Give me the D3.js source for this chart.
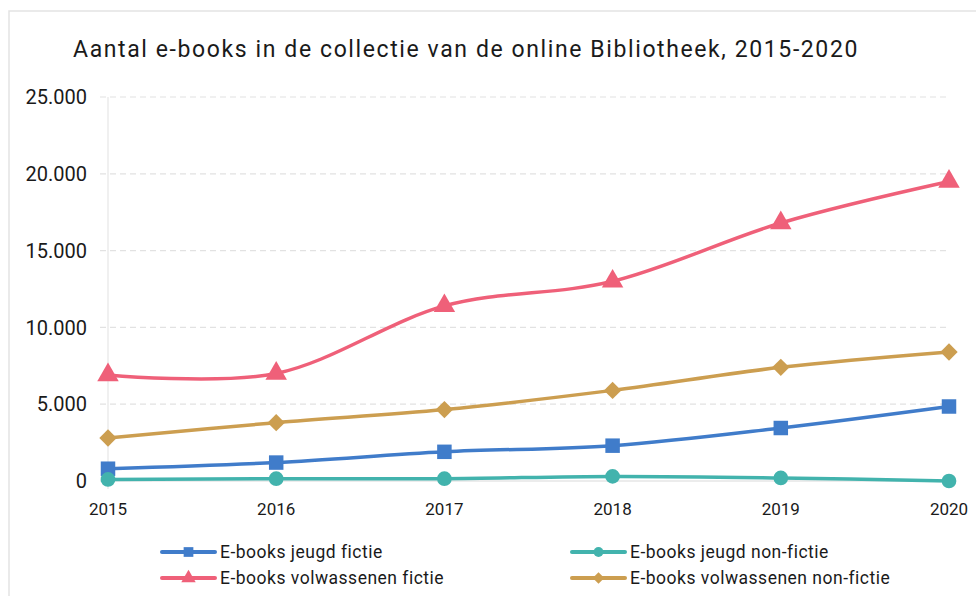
<!DOCTYPE html>
<html>
<head>
<meta charset="utf-8">
<script src="https://cdn.jsdelivr.net/npm/d3@7"></script>
<style>
  body { margin: 0; background: #fff; }
  text { font-family: Roboto, "Noto Sans", sans-serif; fill: #1a1a1a; }
</style>
</head>
<body>
<svg id="chart" width="976" height="596"></svg>
<script>
const years = [2015, 2016, 2017, 2018, 2019, 2020];
const seriesNames = [
  'E-books jeugd fictie',
  'E-books jeugd non-fictie',
  'E-books volwassenen fictie',
  'E-books volwassenen non-fictie'
];
const jeugdFictie = [800, 1200, 1900, 2300, 3450, 4850];
const jeugdNonFictie = [100, 150, 150, 300, 200, 0];
const volwFictie = [6900, 7000, 11400, 13000, 16800, 19500];
const volwNonFictie = [2800, 3800, 4650, 5900, 7400, 8400];
const yTicks = [0, 5000, 10000, 15000, 20000, 25000];

const colors = ['#407cca', '#42b3ad', '#ef6079', '#cc9e50'];
const symbols = [d3.symbolSquare, d3.symbolCircle, d3.symbolTriangle, d3.symbolSquare];
const symbolSizes = [210, 170, 200, 150];
const symbolRotate = [0, 0, 0, 45];

const width = 976;
const height = 596;
const margin = { top: 97, right: 27, bottom: 115, left: 108 };

const svg = d3.select('#chart');

// outer frame
svg.append('path')
  .attr('d', `M9,${height} L9,11 L${width},11`)
  .attr('fill', 'none')
  .attr('stroke', '#e3e3e3')
  .attr('stroke-width', 1.5);

svg.append('text')
  .text('Aantal e-books in de collectie van de online Bibliotheek, 2015-2020')
  .attr('x', 466)
  .attr('y', 57)
  .attr('text-anchor', 'middle')
  .attr('font-size', '23px')
  .attr('letter-spacing', '1.6px');

const x = d3.scalePoint()
  .domain(years)
  .range([margin.left, width - margin.right]);

const y = d3.scaleLinear()
  .domain([0, 25000])
  .range([height - margin.bottom, margin.top]);

const fmt = d3.formatLocale({ decimal: ',', thousands: '.', grouping: [3], currency: ['€', ''] }).format(',');

// gridlines
svg.append('g')
  .selectAll('line')
  .data(yTicks.filter(d => d > 0))
  .enter()
  .append('line')
  .attr('x1', margin.left - 8)
  .attr('x2', width - margin.right)
  .attr('y1', d => y(d))
  .attr('y2', d => y(d))
  .attr('stroke', '#e2e2e2')
  .attr('stroke-width', 1.2)
  .attr('stroke-dasharray', '6,4');

// axis lines
svg.append('line')
  .attr('x1', margin.left).attr('x2', margin.left)
  .attr('y1', y(25000)).attr('y2', y(0) + 8)
  .attr('stroke', '#e6e6e6').attr('stroke-width', 1.2);
svg.append('line')
  .attr('x1', margin.left - 8).attr('x2', width - margin.right)
  .attr('y1', y(0)).attr('y2', y(0))
  .attr('stroke', '#e6e6e6').attr('stroke-width', 1.5);

// y labels
svg.append('g')
  .selectAll('text')
  .data(yTicks)
  .enter()
  .append('text')
  .text(d => fmt(d))
  .attr('x', 87)
  .attr('y', d => y(d))
  .attr('dy', '0.36em')
  .attr('text-anchor', 'end')
  .attr('font-size', '20px');

// x labels
svg.append('g')
  .selectAll('text')
  .data(years)
  .enter()
  .append('text')
  .text(d => d)
  .attr('x', d => x(d))
  .attr('y', 515)
  .attr('text-anchor', 'middle')
  .attr('font-size', '17px');

const allSeries = [jeugdFictie, jeugdNonFictie, volwFictie, volwNonFictie];

const line = d3.line()
  .x((d, i) => x(years[i]))
  .y(d => y(d))
  .curve(d3.curveCardinal.tension(0));

// draw order: jeugd non-fictie last so it sits on top near zero
const order = [3, 2, 0, 1];
order.forEach((s) => {
  const g = svg.append('g');
  g.append('path')
    .datum(allSeries[s])
    .attr('d', line)
    .attr('fill', 'none')
    .attr('stroke', colors[s])
    .attr('stroke-width', 3.5);
  g.selectAll('path.marker')
    .data(allSeries[s])
    .enter()
    .append('path')
    .attr('class', 'marker')
    .attr('d', d3.symbol().type(symbols[s]).size(symbolSizes[s]))
    .attr('transform', (d, i) => `translate(${x(years[i])},${y(d)}) rotate(${symbolRotate[s]})`)
    .attr('fill', colors[s]);
});

// legend
const legendPos = [
  { x: 162, y: 552 },
  { x: 572, y: 552 },
  { x: 162, y: 578 },
  { x: 572, y: 578 }
];
const legend = svg.append('g')
  .selectAll('g')
  .data(seriesNames)
  .enter()
  .append('g')
  .attr('transform', (d, i) => `translate(${legendPos[i].x},${legendPos[i].y})`);

legend.append('line')
  .attr('x1', 0).attr('x2', 53)
  .attr('y1', 0).attr('y2', 0)
  .attr('stroke', (d, i) => colors[i])
  .attr('stroke-width', 4)
  .attr('stroke-linecap', 'round');
legend.append('path')
  .attr('d', (d, i) => d3.symbol().type(symbols[i]).size(symbolSizes[i] * 0.45)())
  .attr('transform', (d, i) => `translate(26.5,0) rotate(${symbolRotate[i]})`)
  .attr('fill', (d, i) => colors[i]);
legend.append('text')
  .text(d => d)
  .attr('x', 58)
  .attr('y', 0)
  .attr('dy', '0.35em')
  .attr('font-size', '17.5px')
  .attr('letter-spacing', '0.5px');
</script>
</body>
</html>
